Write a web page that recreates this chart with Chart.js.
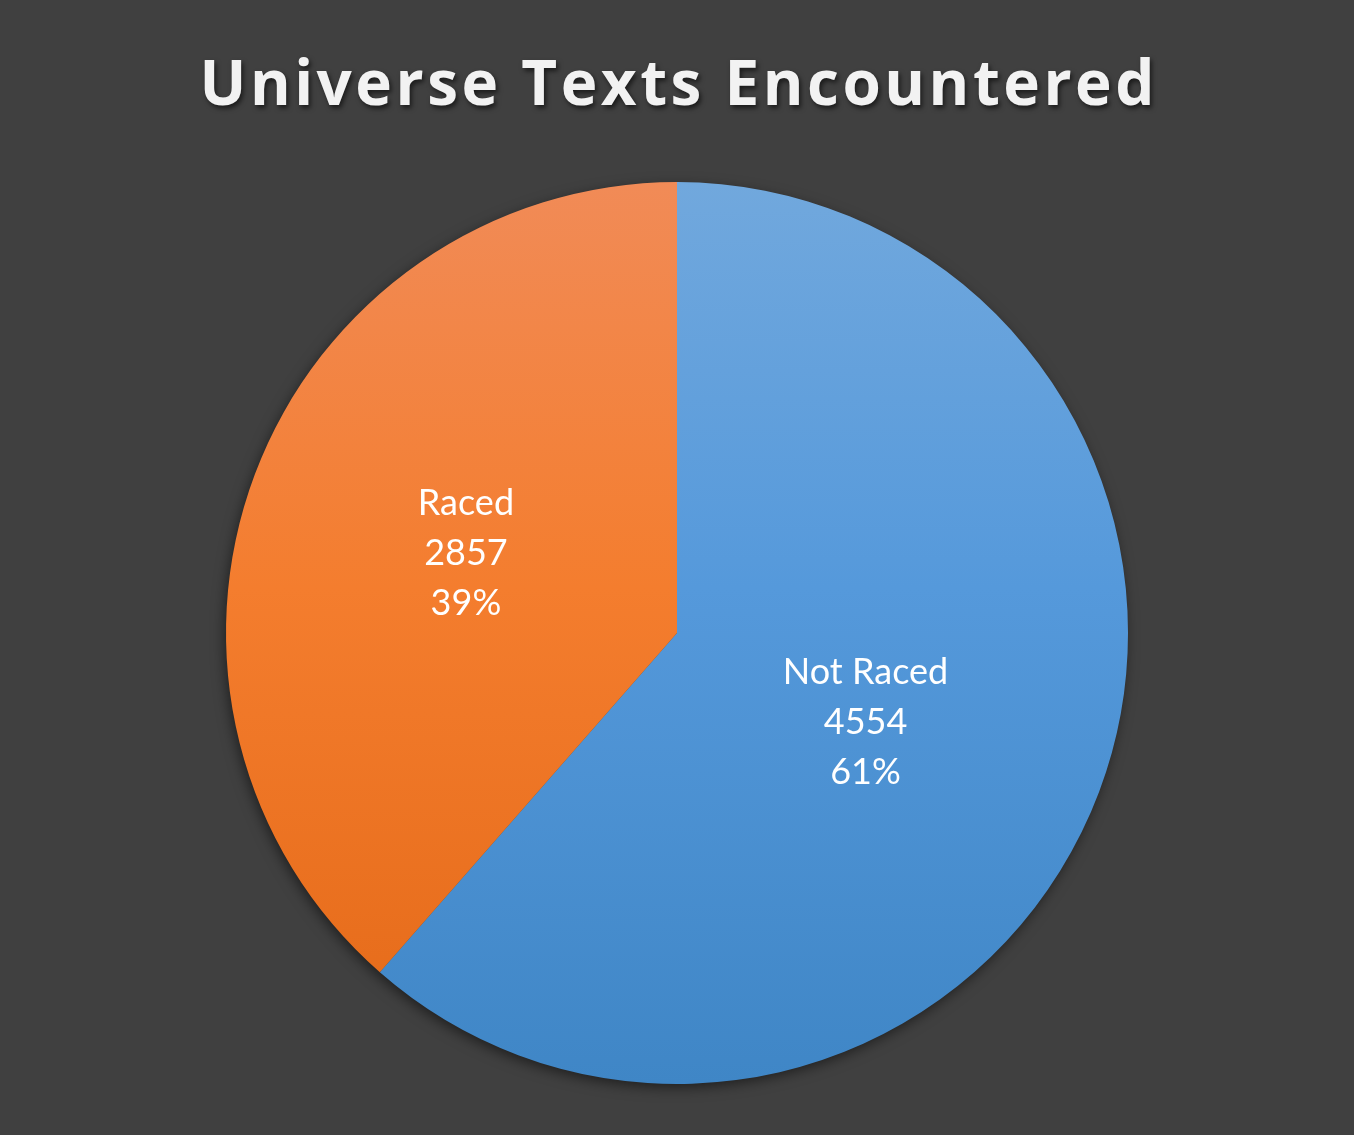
<!DOCTYPE html>
<html>
<head>
<meta charset="utf-8">
<script src="https://cdn.jsdelivr.net/npm/chart.js@4/dist/chart.umd.min.js"></script>
<style>
  html, body { margin: 0; padding: 0; background: #404040; }
  #wrap { width: 1354px; height: 1135px; position: relative; }
</style>
</head>
<body>
<div id="wrap"><canvas id="c" width="1354" height="1135"></canvas></div>
<script>
const TITLE = 'Universe Texts Encountered';
const categories = ['Not Raced', 'Raced'];
const values = [4554, 2857];

const total = values.reduce((a, b) => a + b, 0);

const bgPlugin = {
  id: 'bg',
  beforeDraw(chart) {
    const ctx = chart.ctx;
    ctx.save();
    ctx.fillStyle = '#404040';
    ctx.fillRect(0, 0, chart.width, chart.height);
    // title
    ctx.font = 'bold 62px "Open Sans"';
    ctx.textAlign = 'center';
    ctx.textBaseline = 'alphabetic';
    const plain = ctx.measureText(TITLE).width;
    const sp = Math.max(0, (955 - plain) / (TITLE.length - 1));
    ctx.letterSpacing = sp + 'px';
    ctx.shadowColor = 'rgba(0,0,0,0.6)';
    ctx.shadowBlur = 5;
    ctx.shadowOffsetX = 2;
    ctx.shadowOffsetY = 3;
    ctx.fillStyle = '#f2f2f2';
    ctx.fillText(TITLE, chart.width / 2 + sp / 2, 105);
    ctx.restore();
  },
  beforeDatasetsDraw(chart) {
    const arc = chart.getDatasetMeta(0).data[0];
    if (!arc) return;
    const {x, y, outerRadius} = arc.getProps(['x', 'y', 'outerRadius'], true);
    const ctx = chart.ctx;
    ctx.save();
    ctx.shadowColor = 'rgba(0,0,0,0.55)';
    ctx.shadowBlur = 14;
    ctx.shadowOffsetX = -2;
    ctx.shadowOffsetY = 4;
    ctx.fillStyle = '#4a4a4a';
    ctx.beginPath();
    ctx.arc(x, y, outerRadius - 1, 0, Math.PI * 2);
    ctx.fill();
    ctx.restore();
  },
  afterDatasetsDraw(chart) {
    const meta = chart.getDatasetMeta(0);
    const ctx = chart.ctx;
    ctx.save();
    ctx.font = '36px Lato';
    ctx.fillStyle = '#ffffff';
    ctx.textAlign = 'center';
    ctx.textBaseline = 'middle';
    meta.data.forEach((el, i) => {
      const p = el.getProps(['x', 'y', 'startAngle', 'endAngle', 'outerRadius'], true);
      const mid = (p.startAngle + p.endAngle) / 2;
      const r = p.outerRadius * 0.5;
      let cx = p.x + Math.cos(mid) * r;
      let cy = p.y + Math.sin(mid) * r;
      // nudge the large slice's label toward the centre, as in the original
      if (i === 0) { cx -= p.outerRadius * 0.05; cy += p.outerRadius * 0.022; }
      const pct = Math.round(values[i] / total * 100) + '%';
      const lines = [categories[i], String(values[i]), pct];
      lines.forEach((t, k) => ctx.fillText(t, cx, cy + (k - 1) * 50));
    });
    ctx.restore();
  }
};

function grad(ctx, area, stops) {
  const g = ctx.createLinearGradient(0, area.top, 0, area.bottom);
  stops.forEach(([o, c]) => g.addColorStop(o, c));
  return g;
}

new Chart(document.getElementById('c'), {
  type: 'pie',
  data: {
    labels: categories,
    datasets: [{
      data: values,
      backgroundColor(c) {
        const area = c.chart.chartArea;
        if (!area) return c.dataIndex === 0 ? '#5599db' : '#f47d30';
        return c.dataIndex === 0
          ? grad(c.chart.ctx, area, [[0, '#71a8dd'], [0.45, '#5599db'], [1, '#3f86c6']])
          : grad(c.chart.ctx, area, [[0, '#f18b57'], [0.45, '#f47d2e'], [1, '#e46917']]);
      },
      borderWidth: 0,
      hoverOffset: 0,
      offset: 0
    }]
  },
  options: {
    responsive: false,
    animation: false,
    events: [],
    layout: { padding: { top: 182, bottom: 51, left: 0, right: 0 } },
    plugins: {
      legend: { display: false },
      title: { display: false },
      tooltip: { enabled: false }
    }
  },
  plugins: [bgPlugin]
});
</script>
</body>
</html>
